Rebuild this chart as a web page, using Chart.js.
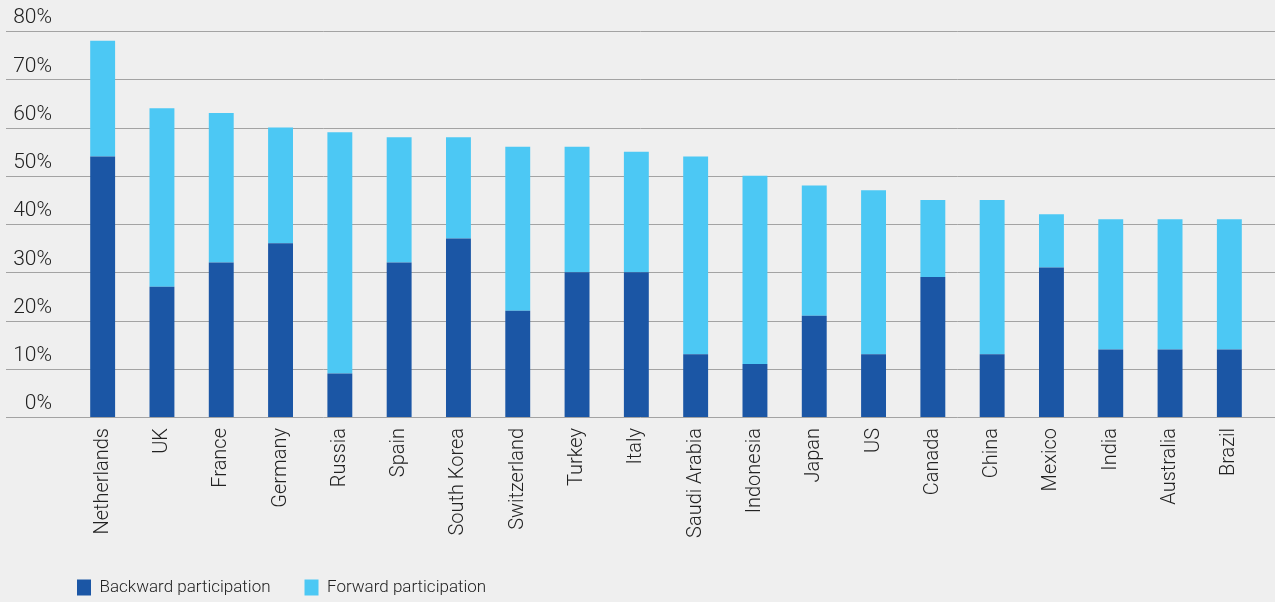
<!DOCTYPE html>
<html>
<head>
<meta charset="utf-8">
<script src="https://cdn.jsdelivr.net/npm/chart.js@4/dist/chart.umd.min.js"></script>
<style>
  html, body { margin: 0; padding: 0; background: #efefef; }
  #wrap { width: 1275px; height: 602px; position: relative; }
</style>
</head>
<body>
<div id="wrap"><canvas id="myChart"></canvas></div>
<script>
const countries = ['Netherlands', 'UK', 'France', 'Germany', 'Russia', 'Spain', 'South Korea', 'Switzerland', 'Turkey', 'Italy',
    'Saudi Arabia', 'Indonesia', 'Japan', 'US', 'Canada', 'China', 'Mexico', 'India', 'Australia', 'Brazil']
const backward = [54, 27, 32, 36, 9, 32, 37, 22, 30, 30, 13, 11, 21, 13, 29, 13, 31, 14, 14, 14]
const forward = [24, 37, 31, 24, 50, 26, 21, 34, 26, 25, 41, 39, 27, 34, 16, 32, 11, 27, 27, 27]
const yTicks = [0, 10, 20, 30, 40, 50, 60, 70, 80]

const darkBlue = 'rgb(27, 86, 165)'
const lightBlue = 'rgb(76, 200, 244)'
const fontFamily = 'Roboto'

// grid lines run the full width of the canvas, wider than the bars area
const fullGrid = {
    id: 'fullGrid',
    beforeDatasetsDraw(chart) {
        const y = chart.scales.y
        const c = chart.ctx
        c.save()
        c.strokeStyle = '#a3a3a3'
        c.lineWidth = 1
        yTicks.forEach(v => {
            const py = Math.round(y.getPixelForValue(v)) + 0.5
            c.beginPath()
            c.moveTo(6, py)
            c.lineTo(chart.width, py)
            c.stroke()
        })
        c.restore()
    }
}

// move the legend to sit under the bars
const legendShift = {
    id: 'legendShift',
    afterLayout(chart) {
        const lg = chart.legend
        lg.left += 43
        lg.right += 43
        lg.top += 4
        lg.bottom += 4
    }
}

const ctx1 = document.getElementById('myChart')

new Chart(ctx1, {
    type: 'bar',
    data: {
        labels: countries,
        datasets: [{
            label: 'Backward participation',
            data: backward,
            backgroundColor: darkBlue,
            borderWidth: 0,
        }, {
            label: 'Forward participation',
            data: forward,
            backgroundColor: lightBlue,
            borderWidth: 0,
        }]
    },
    plugins: [fullGrid, legendShift],
    options: {
        responsive: true,
        maintainAspectRatio: false,
        animation: false,
        barPercentage: 0.42,
        categoryPercentage: 1,
        layout: {
            padding: { top: 31, right: 16, bottom: 0, left: 0 }
        },
        scales: {
            x: {
                stacked: true,
                grid: { display: false, drawTicks: false },
                border: { display: false },
                afterFit: s => { s.height = 124 },
                ticks: {
                    color: '#222',
                    minRotation: 90,
                    maxRotation: 90,
                    padding: 11,
                    font: { family: fontFamily, size: 20, weight: 300 }
                }
            },
            y: {
                stacked: true,
                min: 0,
                max: 80,
                afterFit: s => {
                    s.width = 73
                    s.paddingTop = 0
                    s.paddingBottom = 0
                },
                afterBuildTicks: s => { s.ticks = yTicks.map(v => ({ value: v })) },
                grid: { display: false, drawTicks: false },
                border: { display: false },
                ticks: {
                    color: '#222',
                    padding: 21,
                    labelOffset: -13,
                    callback: v => v + '%',
                    font: { family: fontFamily, size: 21, weight: 300 }
                }
            }
        },
        plugins: {
            tooltip: { enabled: false },
            legend: {
                display: true,
                position: 'bottom',
                align: 'start',
                labels: {
                    color: '#222',
                    boxWidth: 14,
                    boxHeight: 16,
                    padding: 34,
                    font: { family: fontFamily, size: 17, weight: 300 }
                }
            }
        }
    }
})
</script>
</body>
</html>
